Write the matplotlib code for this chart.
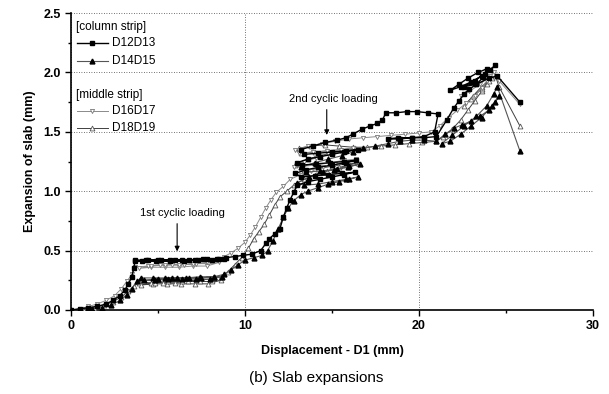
import matplotlib
matplotlib.use("Agg")
import matplotlib.pyplot as plt
from matplotlib.ticker import MultipleLocator

plt.rcParams['font.family'] = ['Liberation Sans', 'DejaVu Sans']

# ---- data (x = Displacement D1 [mm], y = expansion [mm]) ----
d12d13 = [(0,0),(0.5,0.01),(1.0,0.02),(1.5,0.03),(2.0,0.05),(2.4,0.08),(2.8,0.12),(3.1,0.17),(3.3,0.22),(3.5,0.28),(3.6,0.35),(3.7,0.42),
          (4.3,0.42),(5.0,0.42),(5.7,0.42),(6.4,0.42),(7.1,0.42),(7.8,0.43),(8.5,0.43),(8.8,0.43),(8.1,0.42),(7.3,0.42),(6.5,0.41),(5.7,0.41),(4.9,0.41),(4.1,0.41),(3.7,0.41),(4.4,0.42),(5.2,0.42),(6.0,0.42),(6.8,0.42),(7.6,0.43),(8.4,0.43),(8.9,0.44),
          (9.4,0.45),(9.9,0.46),(10.4,0.47),(10.9,0.50),(11.2,0.56),(11.4,0.60),(11.7,0.64),(12.0,0.68),(12.2,0.78),(12.4,0.86),(12.6,0.93),(12.8,0.99),(13.0,1.05),
          (13.6,1.08),(14.3,1.10),(15.0,1.12),(15.7,1.14),(16.3,1.16),(15.6,1.15),(14.8,1.14),(14.0,1.13),(13.2,1.12),(12.9,1.15),(13.5,1.18),(14.2,1.20),(15.0,1.22),(15.8,1.24),(16.4,1.26),(15.7,1.25),(14.9,1.24),(14.1,1.23),(13.3,1.22),(13.0,1.24),(13.6,1.27),(14.3,1.29),(15.0,1.31),(15.7,1.33),(16.5,1.35),(15.8,1.34),(15.0,1.33),(14.2,1.32),(13.4,1.31),(13.2,1.35),(13.9,1.38),(14.6,1.41),(15.3,1.43),(15.8,1.45),(16.2,1.48),(16.7,1.52),(17.2,1.55),(17.6,1.57),(17.9,1.60),(18.1,1.66),
          (18.7,1.66),(19.3,1.67),(19.9,1.67),(20.5,1.66),(21.1,1.65),(20.9,1.50),(20.3,1.46),(19.6,1.45),(18.8,1.45),(18.2,1.44),(18.9,1.44),(19.6,1.45),(20.3,1.45),(21.0,1.46),(21.6,1.60),(22.0,1.70),(22.3,1.76),(22.6,1.82),(22.9,1.86),(23.3,1.90),(23.7,1.96),(23.9,2.03),(23.4,2.00),(22.8,1.95),(22.3,1.90),(21.8,1.85),(22.4,1.88),(23.0,1.92),(23.6,1.97),(24.1,2.02),(24.4,2.06),(23.8,1.99),(23.2,1.93),(22.6,1.88),(23.3,1.90),(24.0,1.95),(24.5,1.97),(25.8,1.75)]

d14d15 = [(0,0),(0.6,0.0),(1.2,0.01),(1.8,0.02),(2.3,0.04),(2.8,0.08),(3.2,0.13),(3.5,0.18),(3.8,0.24),(4.0,0.27),
          (4.7,0.27),(5.4,0.27),(6.1,0.27),(6.8,0.27),(7.5,0.27),(8.2,0.28),(8.7,0.28),(8.0,0.26),(7.2,0.26),(6.4,0.26),(5.6,0.26),(4.8,0.25),(4.2,0.25),(5.0,0.26),(5.8,0.27),(6.6,0.27),(7.4,0.28),(8.2,0.28),(8.8,0.30),
          (9.2,0.34),(9.6,0.38),(10.0,0.42),(10.5,0.44),(11.0,0.46),(11.3,0.50),(11.6,0.58),(11.9,0.68),(12.2,0.78),(12.5,0.86),(12.8,0.92),(13.2,0.97),(13.6,1.00),
          (14.2,1.03),(14.8,1.06),(15.4,1.08),(16.0,1.10),(16.5,1.12),(15.8,1.10),(15.0,1.08),(14.2,1.06),(13.4,1.05),(13.0,1.07),(13.7,1.12),(14.5,1.16),(15.3,1.19),(16.0,1.21),(16.6,1.23),(15.9,1.20),(15.1,1.18),(14.3,1.17),(13.5,1.16),(13.2,1.20),(14.0,1.24),(14.8,1.27),(15.6,1.30),(16.2,1.33),(16.8,1.36),(17.5,1.38),(18.2,1.40),(18.9,1.42),(19.6,1.43),(20.3,1.43),(21.0,1.42),
          (21.5,1.48),(22.0,1.53),(22.5,1.56),(23.0,1.59),(23.5,1.63),(24.0,1.68),(24.4,1.75),(24.6,1.80),(24.2,1.72),(23.6,1.62),(23.0,1.55),(22.4,1.48),(21.8,1.42),(21.3,1.40),(21.9,1.47),(22.6,1.55),(23.3,1.63),(23.9,1.72),(24.3,1.82),(24.5,1.88),(25.8,1.34)]

d16d17 = [(0,0),(0.5,0.01),(1.0,0.03),(1.5,0.05),(2.0,0.08),(2.5,0.12),(2.9,0.18),(3.2,0.24),(3.5,0.30),(3.7,0.36),
          (4.4,0.37),(5.1,0.38),(5.8,0.38),(6.5,0.38),(7.2,0.39),(7.9,0.39),(8.5,0.40),(7.8,0.37),(7.0,0.37),(6.2,0.36),(5.4,0.36),(4.6,0.36),(3.9,0.35),(4.6,0.37),(5.4,0.38),(6.2,0.38),(7.0,0.39),(7.8,0.40),(8.4,0.42),
          (8.8,0.45),(9.2,0.48),(9.6,0.52),(10.0,0.57),(10.3,0.63),(10.6,0.70),(10.9,0.78),(11.2,0.86),(11.5,0.93),(11.8,0.99),(12.2,1.04),(12.6,1.10),
          (13.2,1.14),(13.8,1.17),(14.5,1.20),(15.2,1.23),(15.9,1.25),(16.4,1.27),(15.7,1.26),(14.9,1.24),(14.1,1.22),(13.3,1.21),(12.8,1.20),(13.4,1.25),(14.1,1.28),(14.8,1.31),(15.5,1.33),(16.2,1.36),(15.5,1.35),(14.7,1.34),(13.9,1.33),(13.1,1.32),(12.9,1.35),(13.6,1.38),(14.4,1.40),(15.2,1.42),(16.0,1.44),(16.8,1.45),(17.6,1.46),(18.4,1.47),(19.2,1.48),(20.0,1.49),(20.7,1.50),
          (21.2,1.55),(21.7,1.62),(22.2,1.68),(22.7,1.74),(23.2,1.80),(23.6,1.87),(23.9,1.93),(24.1,1.97),(23.5,1.90),(22.9,1.84),(22.4,1.80),(22.9,1.86),(23.4,1.90),(23.9,1.95),(24.3,2.00),(24.6,1.93),(25.8,1.73)]

d18d19 = [(0,0),(0.7,0.01),(1.3,0.02),(1.9,0.04),(2.4,0.07),(2.9,0.11),(3.3,0.16),(3.6,0.20),(3.9,0.23),
          (4.6,0.23),(5.3,0.23),(6.0,0.23),(6.7,0.24),(7.4,0.24),(8.1,0.24),(8.6,0.25),(7.9,0.22),(7.1,0.22),(6.3,0.22),(5.5,0.22),(4.7,0.22),(4.0,0.21),(4.8,0.23),(5.6,0.24),(6.4,0.24),(7.2,0.25),(8.0,0.26),(8.6,0.28),
          (9.0,0.32),(9.4,0.38),(9.8,0.44),(10.2,0.52),(10.5,0.60),(10.8,0.66),(11.1,0.72),(11.4,0.80),(11.7,0.88),(12.0,0.95),(12.4,1.00),(12.8,1.05),
          (13.4,1.10),(14.0,1.14),(14.7,1.17),(15.4,1.20),(16.0,1.22),(16.5,1.24),(15.8,1.23),(15.0,1.21),(14.2,1.19),(13.4,1.18),(12.9,1.22),(13.6,1.27),(14.3,1.30),(15.0,1.32),(15.7,1.34),(16.3,1.36),(15.6,1.35),(14.8,1.34),(14.0,1.33),(13.2,1.32),(13.1,1.36),(13.8,1.38),(14.6,1.39),(15.4,1.38),(16.2,1.37),(17.0,1.37),(17.8,1.38),(18.6,1.39),(19.4,1.40),(20.2,1.41),(21.0,1.42),
          (21.4,1.46),(21.9,1.52),(22.4,1.60),(22.8,1.68),(23.2,1.76),(23.6,1.84),(23.9,1.90),(24.2,1.95),(23.6,1.86),(23.0,1.78),(22.6,1.72),(23.1,1.80),(23.6,1.88),(24.0,1.93),(24.4,1.97),(24.6,1.88),(25.8,1.55)]

series_names = ["D12D13", "D14D15", "D16D17", "D18D19"]
group_titles = ["[column strip]", "[middle strip]"]
x_ticks = [0, 10, 20, 30]
y_ticks = [0.0, 0.5, 1.0, 1.5, 2.0, 2.5]

styles = {
    "D12D13": dict(color="black", lw=1.0, marker="s", ms=3.0, mfc="black", mec="black"),
    "D14D15": dict(color="#555555", lw=0.8, marker="^", ms=3.5, mfc="black", mec="black"),
    "D16D17": dict(color="#8a8a8a", lw=0.7, marker="v", ms=3.0, mfc="white", mec="#777777", mew=0.6),
    "D18D19": dict(color="#404040", lw=0.7, marker="^", ms=3.5, mfc="white", mec="#555555", mew=0.6),
}

fig = plt.figure(figsize=(6.09, 3.94), dpi=100)
ax = fig.add_axes([0.1166, 0.2132, 0.857, 0.7538])

data = {"D12D13": d12d13, "D14D15": d14d15, "D16D17": d16d17, "D18D19": d18d19}
for name in ["D18D19", "D16D17", "D14D15", "D12D13"]:
    xs, ys = zip(*data[name])
    ax.plot(xs, ys, zorder=3, **styles[name])

ax.set_xlim(0, 30)
ax.set_ylim(0, 2.5)
ax.set_xticks(x_ticks)
ax.set_yticks(y_ticks)
ax.set_yticklabels([f"{v:.1f}" for v in y_ticks])
ax.xaxis.set_minor_locator(MultipleLocator(5))
ax.yaxis.set_minor_locator(MultipleLocator(0.25))
ax.tick_params(which="major", direction="out", length=4, width=1, labelsize=9)
ax.tick_params(which="minor", direction="out", length=2.5, width=1)
for lab in ax.get_xticklabels() + ax.get_yticklabels():
    lab.set_fontweight("bold")
ax.spines["top"].set_visible(False)
ax.spines["right"].set_visible(False)
ax.spines["left"].set_linewidth(1.2)
ax.spines["bottom"].set_linewidth(1.2)
ax.grid(True, which="major", linestyle=(0, (1, 2)), color="#444444", lw=0.6)
ax.set_axisbelow(True)

ax.set_xlabel("Displacement - D1 (mm)", fontsize=9, fontweight="bold", labelpad=9)
ax.set_ylabel("Expansion of slab (mm)", fontsize=9, fontweight="bold", labelpad=5)

# annotations
ax.annotate("", xy=(6.1, 0.47), xytext=(6.1, 0.75),
            arrowprops=dict(arrowstyle="-|>", color="black", lw=0.8, mutation_scale=7))
ax.text(6.4, 0.82, "1st cyclic loading", fontsize=8, ha="center", va="center")
ax.annotate("", xy=(14.7, 1.45), xytext=(14.7, 1.71),
            arrowprops=dict(arrowstyle="-|>", color="black", lw=0.8, mutation_scale=7))
ax.text(15.1, 1.78, "2nd cyclic loading", fontsize=8, ha="center", va="center")

# legend (manual, grouped)
tr = ax.transAxes
ax.text(0.0096, 0.953, group_titles[0], transform=tr, fontsize=8.5, va="center", ha="left")
ax.text(0.0096, 0.724, group_titles[1], transform=tr, fontsize=8.5, va="center", ha="left")
leg_y = {"D12D13": 0.899, "D14D15": 0.838, "D16D17": 0.670, "D18D19": 0.613}
for name in series_names:
    yy = leg_y[name]
    ax.plot([0.011, 0.070], [yy, yy], transform=tr, clip_on=False, zorder=5,
            **{k: v for k, v in styles[name].items() if k not in ("marker", "ms", "mfc", "mec", "mew")})
    st = styles[name]
    ax.plot([0.040], [yy], transform=tr, linestyle="none", marker=st["marker"], ms=st["ms"],
            mfc=st["mfc"], mec=st["mec"], mew=st.get("mew", 1.0), zorder=6)
    ax.text(0.078, yy, name, transform=tr, fontsize=8.5, va="center", ha="left")

fig.text(0.52, 0.04, "(b) Slab expansions", fontsize=11, ha="center", va="center")

fig.savefig("out.png", dpi=100)
